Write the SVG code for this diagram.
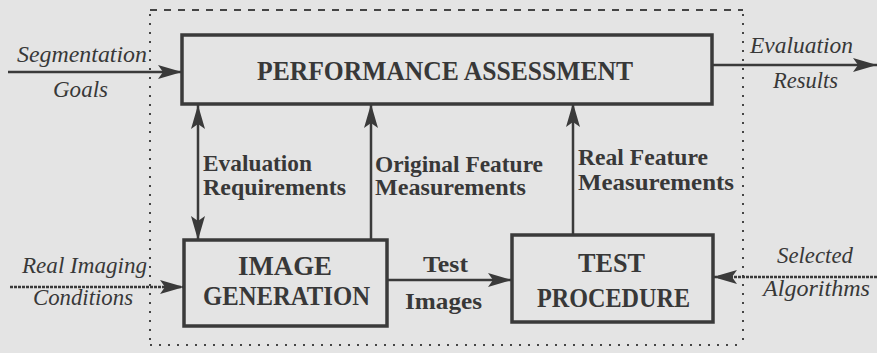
<svg xmlns="http://www.w3.org/2000/svg" width="877" height="353" viewBox="0 0 877 353">
<style>
.box{fill:none;stroke:#3a3a3a;stroke-width:3.5}
.ln{stroke:#3a3a3a;stroke-width:2.5;fill:none}
.dl{stroke:#3a3a3a;stroke-width:2.5;fill:none;stroke-dasharray:3 1}
.bd{stroke:#444;stroke-width:2;fill:none;stroke-dasharray:2 7}
.bt{font-family:"Liberation Serif","Times New Roman",serif;font-weight:bold;fill:#383838;font-size:28px}
.lb{font-family:"Liberation Serif","Times New Roman",serif;font-weight:bold;fill:#383838;font-size:23px}
.it{font-family:"Liberation Serif","Times New Roman",serif;font-style:italic;fill:#383838;font-size:24px}
</style>
<defs>
<marker id="ah" markerUnits="userSpaceOnUse" markerWidth="25" markerHeight="16" refX="24" refY="8" orient="auto-start-reverse">
<path d="M0,1 L24,8 L0,15 L5,8 z" fill="#3a3a3a"/>
</marker>
</defs>
<rect width="877" height="353" fill="#e4e4e4"/>
<g id="boundary">
<line x1="150" y1="10" x2="743" y2="10" class="bd" style="stroke-dasharray:7 7"/>
<line x1="150" y1="14" x2="150" y2="345" class="bd"/>
<line x1="743" y1="14" x2="743" y2="345" class="bd"/>
<line x1="150" y1="345" x2="743" y2="345" class="bd"/>
</g>
<g id="connectors">
<line x1="8" y1="72" x2="182" y2="72" class="ln" marker-end="url(#ah)"/>
<line x1="712" y1="65" x2="877" y2="65" class="ln" marker-end="url(#ah)"/>
<line x1="10" y1="287" x2="184" y2="287" class="dl" marker-end="url(#ah)"/>
<line x1="877" y1="277" x2="713" y2="277" class="dl" marker-end="url(#ah)"/>
<line x1="387" y1="280" x2="512" y2="280" class="ln" marker-end="url(#ah)"/>
<line x1="198" y1="105" x2="198" y2="240" class="ln" marker-start="url(#ah)" marker-end="url(#ah)"/>
<line x1="371" y1="240" x2="371" y2="104" class="ln" marker-end="url(#ah)"/>
<line x1="573" y1="235" x2="573" y2="103" class="ln" marker-end="url(#ah)"/>
<text x="17" y="62" class="it" textLength="130" lengthAdjust="spacingAndGlyphs">Segmentation</text>
<text x="53" y="97" class="it" textLength="55" lengthAdjust="spacingAndGlyphs">Goals</text>
<text x="750" y="53" class="it" textLength="103" lengthAdjust="spacingAndGlyphs">Evaluation</text>
<text x="773" y="88" class="it" textLength="65" lengthAdjust="spacingAndGlyphs">Results</text>
<text x="22" y="273" class="it" textLength="125" lengthAdjust="spacingAndGlyphs">Real Imaging</text>
<text x="33" y="305" class="it" textLength="100" lengthAdjust="spacingAndGlyphs">Conditions</text>
<text x="777" y="263" class="it" textLength="76" lengthAdjust="spacingAndGlyphs">Selected</text>
<text x="763" y="296" class="it" textLength="107" lengthAdjust="spacingAndGlyphs">Algorithms</text>
<text x="423" y="272" class="lb" textLength="45" lengthAdjust="spacingAndGlyphs">Test</text>
<text x="405" y="309" class="lb" textLength="77" lengthAdjust="spacingAndGlyphs">Images</text>
<text x="203" y="171" class="lb" textLength="109" lengthAdjust="spacingAndGlyphs">Evaluation</text>
<text x="203" y="195" class="lb" textLength="143" lengthAdjust="spacingAndGlyphs">Requirements</text>
<text x="375" y="172" class="lb" textLength="168" lengthAdjust="spacingAndGlyphs">Original Feature</text>
<text x="375" y="195" class="lb" textLength="151" lengthAdjust="spacingAndGlyphs">Measurements</text>
<text x="578" y="165" class="lb" textLength="130" lengthAdjust="spacingAndGlyphs">Real Feature</text>
<text x="578" y="190" class="lb" textLength="156" lengthAdjust="spacingAndGlyphs">Measurements</text>
</g>
<g id="performance-assessment">
<rect x="182" y="35" width="530" height="69" class="box"/>
<text x="257" y="80" class="bt" textLength="376" lengthAdjust="spacingAndGlyphs">PERFORMANCE ASSESSMENT</text>
</g>
<g id="image-generation">
<rect x="184" y="240" width="203" height="86" class="box"/>
<text x="238" y="275" class="bt" textLength="94" lengthAdjust="spacingAndGlyphs">IMAGE</text>
<text x="203" y="305" class="bt" textLength="167" lengthAdjust="spacingAndGlyphs">GENERATION</text>
</g>
<g id="test-procedure">
<rect x="512" y="235" width="201" height="87" class="box"/>
<text x="578" y="272" class="bt" textLength="67" lengthAdjust="spacingAndGlyphs">TEST</text>
<text x="537" y="307" class="bt" textLength="153" lengthAdjust="spacingAndGlyphs">PROCEDURE</text>
</g>
</svg>
